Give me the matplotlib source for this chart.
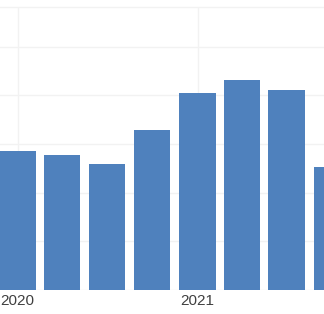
# plot.py
# quarterly bar chart, cropped view (2020 - 2021)

import datetime as dt
import matplotlib
matplotlib.use("Agg")
import matplotlib.pyplot as plt
import matplotlib.dates as mdates

# data
quarters = ["2020-01-01", "2020-04-01", "2020-07-01", "2020-10-01",
            "2021-01-01", "2021-04-01", "2021-07-01", "2021-10-01"]
values = [285, 278, 259, 329, 405, 432, 412, 253]
year_ticks = ["2020-01-01", "2021-01-01"]
year_labels = ["2020", "2021"]

bar_color = "#4f81bd"
grid_color = "#f2f2f2"
text_color = "#404040"

dates = [dt.datetime.strptime(q, "%Y-%m-%d") for q in quarters]
ticks = [dt.datetime.strptime(t, "%Y-%m-%d") for t in year_ticks]

plt.rcParams["font.family"] = ["Liberation Sans", "DejaVu Sans"]

W, H = 324, 314
fig = plt.figure(figsize=(W / 100, H / 100), dpi=100)
# axes: baseline at 290 px, top edge at 7 px
ax = fig.add_axes([0, (H - 290) / H, 1, (290 - 7) / H])

ax.bar(dates, values, width=74, color=bar_color, zorder=2)

# px -> days: one year is ~180 px
days_per_px = 366 / 180
x0 = mdates.date2num(ticks[0]) - 17.5 * days_per_px
ax.set_xlim(x0, x0 + W * days_per_px)
ax.set_ylim(0, 582)

ax.set_xticks(ticks)
ax.set_xticklabels(year_labels, color=text_color, fontsize=11)
ax.set_yticks([0, 100, 200, 300, 400, 500])
ax.tick_params(axis="both", length=0)
ax.tick_params(axis="x", pad=3)
ax.tick_params(axis="y", labelleft=False)

ax.grid(True, color=grid_color, linewidth=1, zorder=0)
ax.set_axisbelow(True)
for side in ["left", "right", "bottom"]:
    ax.spines[side].set_visible(False)
ax.spines["top"].set_color(grid_color)
ax.spines["top"].set_linewidth(1)

fig.savefig("out.png", dpi=100)
